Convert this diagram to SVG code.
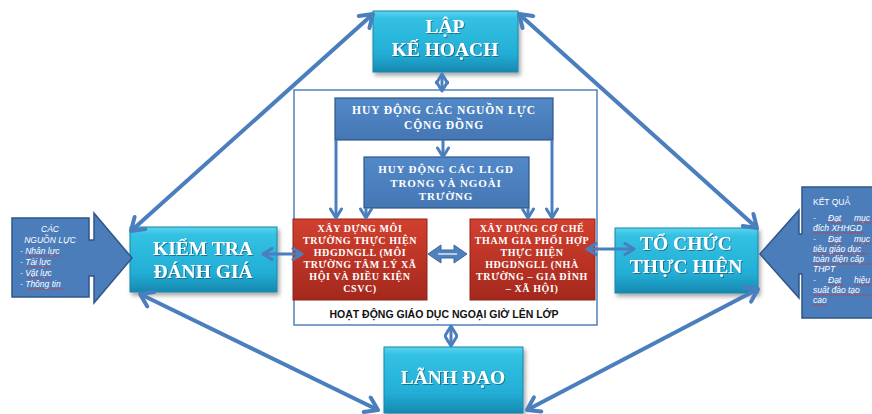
<svg xmlns="http://www.w3.org/2000/svg" width="872" height="414" viewBox="0 0 872 414">
<defs>
<linearGradient id="teal" x1="0" y1="0" x2="0" y2="1">
<stop offset="0" stop-color="#5ad4ef"/>
<stop offset="0.12" stop-color="#33c1e3"/>
<stop offset="0.7" stop-color="#23aed6"/>
<stop offset="1" stop-color="#1789b0"/>
</linearGradient>
<linearGradient id="blue" x1="0" y1="0" x2="0" y2="1">
<stop offset="0" stop-color="#5289c8"/>
<stop offset="1" stop-color="#4576b4"/>
</linearGradient>
<linearGradient id="red" x1="0" y1="0" x2="0" y2="1">
<stop offset="0" stop-color="#d2402f"/>
<stop offset="1" stop-color="#a4281d"/>
</linearGradient>
<filter id="sh" x="-10%" y="-10%" width="125%" height="130%">
<feDropShadow dx="2" dy="3" stdDeviation="2" flood-color="#000" flood-opacity="0.35"/>
</filter>
<filter id="tsh" x="-5%" y="-20%" width="110%" height="150%">
<feDropShadow dx="1" dy="1" stdDeviation="0.6" flood-color="#0b4a60" flood-opacity="0.6"/>
</filter>
<marker id="big" viewBox="0 0 20 20" markerWidth="20" markerHeight="20" refX="17" refY="10" orient="auto-start-reverse" markerUnits="userSpaceOnUse">
<path d="M5,2 L17,10 L5,18" fill="none" stroke="#4a7ebd" stroke-width="4" stroke-linecap="round" stroke-linejoin="round"/>
</marker>
<marker id="sm" viewBox="0 0 14 14" markerWidth="14" markerHeight="14" refX="12" refY="7" orient="auto-start-reverse" markerUnits="userSpaceOnUse">
<path d="M3,1.5 L12,7 L3,12.5" fill="none" stroke="#4a7ebd" stroke-width="3" stroke-linecap="round" stroke-linejoin="round"/>
</marker>
<style>
.teal{fill:url(#teal);stroke:#1a86a8;stroke-width:1;filter:url(#sh)}
.bluebox{fill:url(#blue);stroke:#2f5688;stroke-width:1.2}
.redbox{fill:url(#red);stroke:#8e2218;stroke-width:1}
.big{font-family:"Liberation Serif",serif;font-weight:bold;font-size:19.5px;fill:#fff;text-anchor:middle;filter:url(#tsh)}
.mid{font-family:"Liberation Serif",serif;font-weight:bold;font-size:11.5px;fill:#fff;text-anchor:middle;letter-spacing:0.9px}
.rt{font-family:"Liberation Serif",serif;font-weight:bold;font-size:10px;fill:#fff;text-anchor:middle;letter-spacing:0.6px}
.cap{font-family:"Liberation Sans",sans-serif;font-weight:bold;font-size:10.5px;fill:#111;text-anchor:middle}
.co{font-family:"Liberation Sans",sans-serif;font-style:italic;font-size:8.5px;fill:#fff}
.conb{fill:none;stroke:#4a7ebd;stroke-width:4}
.cons{fill:none;stroke:#4a7ebd;stroke-width:3}
.sq{fill:none;stroke:#e03030;stroke-width:1;stroke-dasharray:1.2 0.8}
.call{fill:#4b7dbb;stroke:#2f5688;stroke-width:1.5}
</style>
</defs>
<rect width="872" height="414" fill="#fff"/>

<g id="frame">
<rect x="294" y="90" width="303" height="235" fill="#fff" stroke="#4f81bd" stroke-width="1.5"/>
<text class="cap" x="444" y="318">HOẠT ĐỘNG GIÁO DỤC NGOẠI GIỜ LÊN LỚP</text>
</g>

<g id="huy-dong-nguon-luc">
<rect class="bluebox" x="335" y="98" width="218" height="42"/>
<text class="mid" x="444" y="114">HUY ĐỘNG CÁC NGUỒN LỰC</text>
<text class="mid" x="444" y="129">CỘNG ĐỒNG</text>
</g>

<g id="huy-dong-llgd">
<rect class="bluebox" x="364" y="157" width="165" height="51"/>
<text class="mid" x="446" y="173" style="font-size:11px">HUY ĐỘNG CÁC LLGD</text>
<text class="mid" x="446" y="187" style="font-size:11px">TRONG VÀ NGOÀI</text>
<text class="mid" x="446" y="200" style="font-size:11px">TRƯỜNG</text>
</g>

<g id="xay-dung-moi-truong">
<rect class="redbox" x="293" y="219" width="134" height="81"/>
<text class="rt" x="360" y="232">XÂY DỰNG MÔI</text>
<text class="rt" x="360" y="244">TRƯỜNG THỰC HIỆN</text>
<text class="rt" x="360" y="256">HĐGDNGLL (MÔI</text>
<text class="rt" x="360" y="268">TRƯỜNG TÂM LÝ XÃ</text>
<text class="rt" x="360" y="280">HỘI VÀ ĐIỀU KIỆN</text>
<text class="rt" x="360" y="292">CSVC)</text>
</g>

<g id="xay-dung-co-che">
<rect class="redbox" x="470" y="219" width="125" height="81"/>
<text class="rt" x="532" y="232">XÂY DỰNG CƠ CHẾ</text>
<text class="rt" x="532" y="244">THAM GIA PHỐI HỢP</text>
<text class="rt" x="532" y="256">THỰC HIỆN</text>
<text class="rt" x="532" y="268">HĐGDNGLL (NHÀ</text>
<text class="rt" x="532" y="280">TRƯỜNG – GIA ĐÌNH</text>
<text class="rt" x="532" y="292">– XÃ HỘI)</text>
</g>

<g id="lap-ke-hoach">
<rect class="teal" x="373" y="11" width="145" height="61"/>
<text class="big" x="445" y="33">LẬP</text>
<text class="big" x="445" y="56">KẾ HOẠCH</text>
</g>

<g id="kiem-tra-danh-gia">
<rect class="teal" x="130" y="227" width="147" height="65"/>
<text class="big" x="203" y="255">KIỂM TRA</text>
<text class="big" x="203" y="278">ĐÁNH GIÁ</text>
</g>

<g id="to-chuc-thuc-hien">
<rect class="teal" x="615" y="228" width="143" height="65"/>
<text class="big" x="686" y="250">TỔ CHỨC</text>
<text class="big" x="686" y="273">THỰC HIỆN</text>
</g>

<g id="lanh-dao">
<rect class="teal" x="384" y="347" width="139" height="66"/>
<text class="big" x="453" y="384">LÃNH ĐẠO</text>
</g>

<g id="cac-nguon-luc">
<path class="call" d="M12,218 H89 V240 H94 V213 L132,258 L94,303 V276 H89 V297 H12 Z"/>
<text class="co" x="50" y="232" text-anchor="middle">CÁC</text>
<text class="co" x="50" y="243" text-anchor="middle">NGUỒN LỰC</text>
<text class="co" x="20" y="254">- Nhân lực</text>
<text class="co" x="20" y="265">- Tài lực</text>
<text class="co" x="20" y="276">- Vật lực</text>
<text class="co" x="20" y="287">- Thông tin</text>
<path class="sq" d="M27,256 H60 M27,267 H51 M27,278 H51 M27,289 H65"/>
</g>

<g id="ket-qua">
<path class="call" d="M802,187 H874 V318 H802 V274 H799 V298 L760,254 L799,210 V234 H802 Z"/>
<text class="co" x="813" y="205" style="font-style:normal">KẾT QUẢ</text>
<text class="co" x="813" y="221">-<tspan x="828">Đạt</tspan><tspan x="854">mục</tspan></text>
<text class="co" x="813" y="231">đích XHHGD</text>
<text class="co" x="813" y="242">-<tspan x="828">Đạt</tspan><tspan x="854">mục</tspan></text>
<text class="co" x="813" y="252">tiêu giáo dục</text>
<text class="co" x="813" y="262">toàn diện cấp</text>
<text class="co" x="813" y="272">THPT</text>
<text class="co" x="813" y="283">-<tspan x="828">Đạt</tspan><tspan x="854">hiệu</tspan></text>
<text class="co" x="813" y="293">suất đào tạo</text>
<text class="co" x="813" y="303">cao</text>
<path class="sq" d="M828,223 H843 M854,223 H872 M813,233 H864 M828,244 H843 M854,244 H872 M813,254 H868 M813,264 H872 M828,285 H843 M854,285 H872 M813,295 H872 M813,305 H827"/>
</g>

<g id="connectors">
<line class="conb" x1="373" y1="14" x2="131" y2="231" marker-start="url(#big)" marker-end="url(#big)"/>
<line class="conb" x1="519" y1="14" x2="757" y2="228" marker-start="url(#big)" marker-end="url(#big)"/>
<line class="conb" x1="140" y1="294" x2="378" y2="410" marker-start="url(#big)" marker-end="url(#big)"/>
<line class="conb" x1="527" y1="410" x2="758" y2="289" marker-start="url(#big)" marker-end="url(#big)"/>
<line class="cons" x1="442" y1="74" x2="442" y2="91" marker-start="url(#sm)" marker-end="url(#sm)"/>
<line class="cons" x1="451" y1="326" x2="451" y2="346" marker-start="url(#sm)" marker-end="url(#sm)"/>
<line class="cons" x1="263" y1="254" x2="302" y2="254" marker-start="url(#sm)" marker-end="url(#sm)"/>
<line class="cons" x1="587" y1="249" x2="634" y2="249" marker-start="url(#sm)" marker-end="url(#sm)"/>
<line class="cons" x1="443" y1="140" x2="443" y2="157" marker-end="url(#sm)"/>
<line class="cons" x1="336" y1="140" x2="336" y2="218" marker-end="url(#sm)"/>
<line class="cons" x1="366" y1="208" x2="366" y2="218" marker-end="url(#sm)"/>
<line class="cons" x1="528" y1="208" x2="528" y2="218" marker-end="url(#sm)"/>
<line class="cons" x1="552" y1="140" x2="552" y2="218" marker-end="url(#sm)"/>
<path d="M428,254 L441,245 V250 H454 V245 L467,254 L454,263 V258 H441 V263 Z" fill="#4f81bd" stroke="#3a68a4" stroke-width="1"/>
<line x1="438" y1="254" x2="457" y2="254" stroke="#fff" stroke-width="1.2"/>
</g>
</svg>
